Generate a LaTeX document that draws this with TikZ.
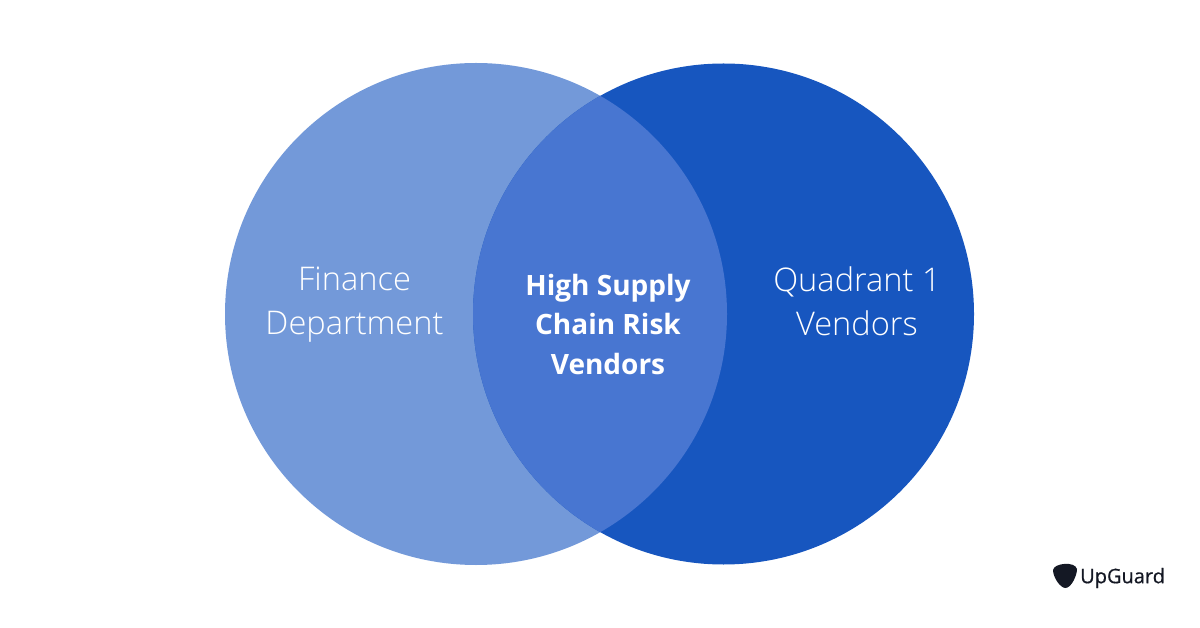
\documentclass[tikz,border=0pt]{standalone}
\usepackage{fontspec}
\setmainfont{Open Sans}
\newfontfamily\thinfont{Open Sans Light}
\definecolor{financeblue}{HTML}{7399D9}
\definecolor{vendorblue}{HTML}{1756BF}
\definecolor{overlapblue}{HTML}{4876D1}
\definecolor{logoink}{HTML}{141824}
\begin{document}
\begin{tikzpicture}
[x=1pt,y=-1pt,%
 sidelabel/.style={text=white,align=center,font=\thinfont\fontsize{32.6}{44}\selectfont},%
 midlabel/.style={text=white,align=center,font=\bfseries\fontsize{28}{39.5}\selectfont},%
 logolabel/.style={text=logoink,anchor=west,inner sep=0pt,font=\fontsize{20}{24}\selectfont}]
\useasboundingbox (0,0) rectangle (1200,628);
%% circles and their overlap
\fill[financeblue] (476,314) circle (251);
\fill[vendorblue] (723.5,314) circle (250.5);
\begin{scope}
\clip (476,314) circle (251);
\fill[overlapblue] (723.5,314) circle (250.5);
\end{scope}
%% labels
\node[sidelabel] (finance) at (354.5,305) {Finance\\Department};
\node[sidelabel] (quadrant) at (857,301) {Quadrant 1\\Vendors};
\node[midlabel] (highrisk) at (608,324) {High Supply\\Chain Risk\\Vendors};
%% logo
\fill[logoink] (1053,570) .. controls (1054,563) and (1075,561) .. (1077,569)
 .. controls (1077,576) and (1071,588) .. (1065.5,588)
 .. controls (1060,588) and (1053,577) .. (1053,570) -- cycle;
\node[logolabel] (upguard) at (1080,578) {\addfontfeatures{FakeBold=0.6}UpGuard};
\end{tikzpicture}
\end{document}
